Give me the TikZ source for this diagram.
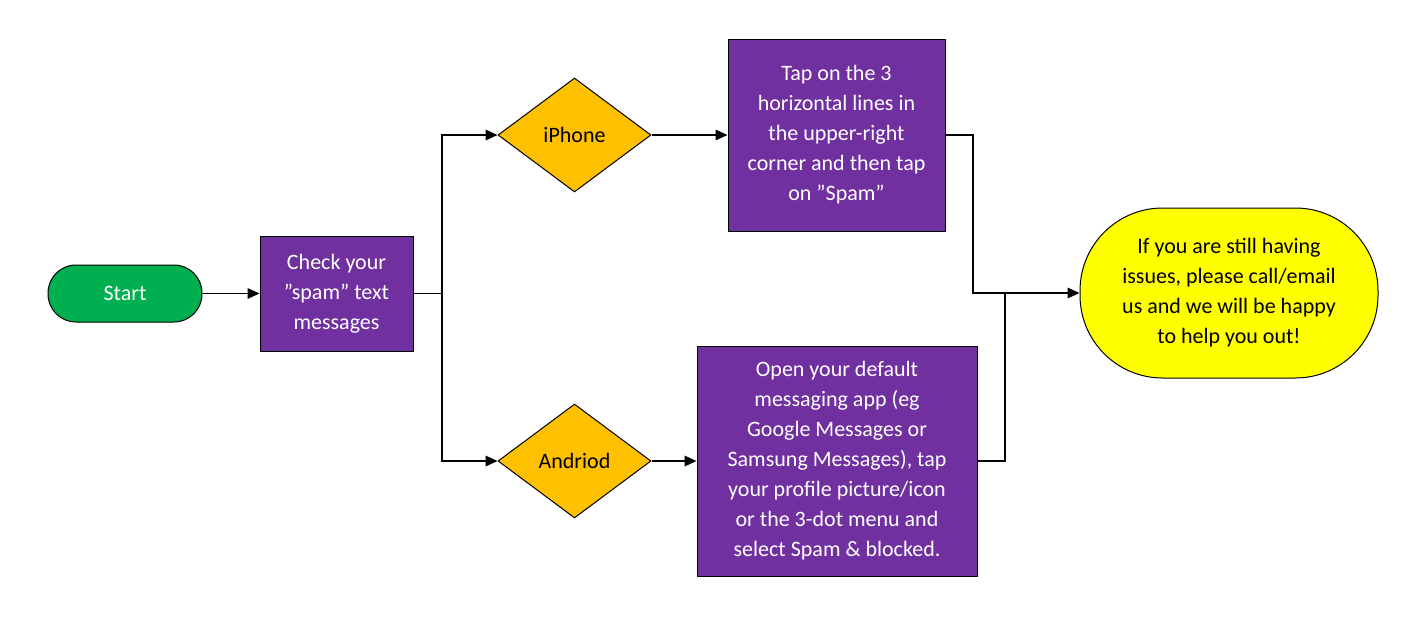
\documentclass[tikz,border=0pt]{standalone}
\usepackage{fontspec}
\setmainfont{Carlito}
\usetikzlibrary{shapes.geometric,arrows.meta}
\definecolor{pur}{RGB}{112,48,160}
\definecolor{grn}{RGB}{0,176,80}
\definecolor{org}{RGB}{255,192,0}
\definecolor{yel}{RGB}{255,255,0}
\begin{document}
\begin{tikzpicture}[x=0.75pt,y=-0.75pt,
  every node/.style={font=\fontsize{16.5}{22.5}\selectfont, align=center, inner sep=0pt},
  box/.style={draw=black, fill=pur, text=white, rectangle, line width=0.75pt},
  dia/.style={draw=black, fill=org, diamond, line width=0.75pt},
  con/.style={draw=black, line width=0.9pt},
  arr/.style={con, -{Triangle[length=9pt,width=8pt]}}]
\useasboundingbox (0,0) rectangle (1416,628);
\node[draw=black, fill=grn, text=white, rounded corners=21pt, minimum width=115.5pt, minimum height=42.75pt, line width=0.75pt] (start) at (125,293.5) {Start};
\node[box, minimum width=114.75pt, minimum height=86.25pt] (check) at (336.5,293.5) {Check your\\"spam" text\\messages};
\node[dia, minimum width=114.75pt, minimum height=85.5pt] (iph) at (574.5,135) {};
\node at (iph) {iPhone};
\node[dia, minimum width=114.75pt, minimum height=85.5pt] (and) at (574.5,461) {};
\node at (and) {Andriod};
\node[box, minimum width=162.75pt, minimum height=144pt] (tap) at (836.5,135) {Tap on the 3\\horizontal lines in\\the upper-right\\corner and then tap\\on "Spam"};
\node[box, minimum width=210pt, minimum height=172.5pt] (open) at (837,461) {Open your default\\messaging app (eg\\Google Messages or\\Samsung Messages), tap\\your profile picture/icon\\or the 3-dot menu and\\select Spam \& blocked.};
\node[draw=black, fill=yel, rounded corners=62pt, minimum width=223.5pt, minimum height=127.5pt, line width=0.75pt] (end) at (1229,293) {If you are still having\\issues, please call/email\\us and we will be happy\\to help you out!};
\coordinate (s1) at (442,293.5);
\coordinate (t1) at (973,135);
\coordinate (t2) at (973,293);
\coordinate (o1) at (1005,461);
\coordinate (o2) at (1005,293);
\draw[arr] (start) -- (check);
\draw[con] (check.east) -- (s1);
\draw[arr] (s1) |- (iph.west);
\draw[arr] (s1) |- (and.west);
\draw[arr] (iph) -- (tap);
\draw[arr] (and) -- (open);
\draw[con] (tap.east) -- (t1) -- (t2) -- (o2);
\draw[arr] (open.east) -- (o1) -- (o2) -- (end.west);
\end{tikzpicture}
\end{document}
